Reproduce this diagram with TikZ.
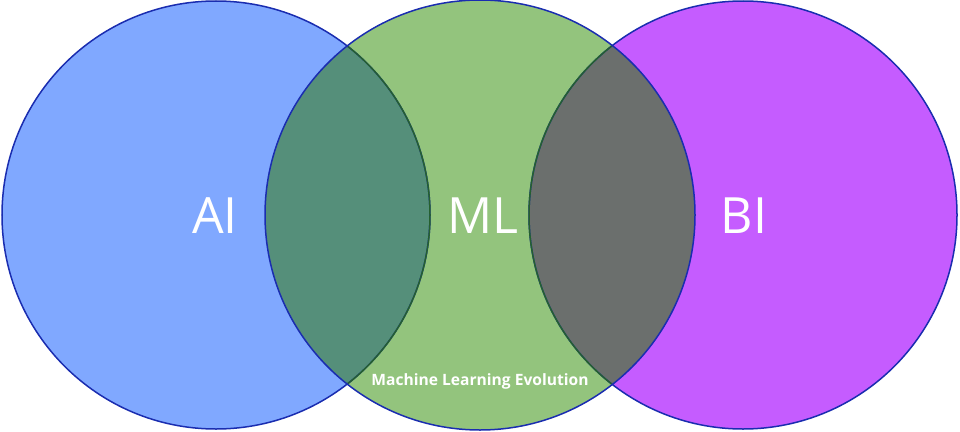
\documentclass[tikz,border=0pt]{standalone}
\usepackage{fontspec}
\setmainfont{Open Sans}
\usepackage{tikz}
\usetikzlibrary{positioning}
\definecolor{vaifill}{HTML}{80A8FF}
\definecolor{vmlfill}{HTML}{93C47D}
\definecolor{vbifill}{HTML}{C55CFF}
\definecolor{vaimlfill}{HTML}{558F7A}
\definecolor{vmlbifill}{HTML}{6B6F6D}
\definecolor{vrimline}{HTML}{1A2DB0}
\definecolor{vinnerline}{HTML}{25602F}
\tikzset{vrim/.style={draw=vrimline, line width=1.5pt}}
\tikzset{vinner/.style={draw=vinnerline, line width=1.5pt}}
\tikzset{vlabel/.style={text=white, inner sep=0pt, font=\fontsize{50}{50}\selectfont}}
\tikzset{vnote/.style={text=white, inner sep=0pt, font=\bfseries\fontsize{15.6}{15.6}\selectfont}}

\begin{document}
\begin{tikzpicture}[x=1pt, y=-1pt]
  \useasboundingbox (0,0) rectangle (960,431);

  % the three sets
  \fill[vaifill] (216,215) circle (214);
  \fill[vbifill] (743,215) circle (214);
  \fill[vmlfill] (480,215) circle (215);

  % overlaps
  \begin{scope}
    \clip (480,215) circle (215);
    \fill[vaimlfill] (216,215) circle (214);
    \fill[vmlbifill] (743,215) circle (214);
  \end{scope}

  % outlines
  \draw[vrim] (216,215) circle (214);
  \draw[vrim] (743,215) circle (214);
  \draw[vrim] (480,215) circle (215);
  \begin{scope}
    \clip (480,215) circle (214);
    \draw[vinner] (216,215) circle (214);
    \draw[vinner] (743,215) circle (214);
  \end{scope}

  \node[vlabel] (ai) at (215,216) {AI};
  \node[vlabel] (ml) at (483,216) {ML};
  \node[vlabel] (bi) at (744,216) {BI};
  \node[vnote] (mlevo) at (480,381) {Machine Learning Evolution};
\end{tikzpicture}
\end{document}
